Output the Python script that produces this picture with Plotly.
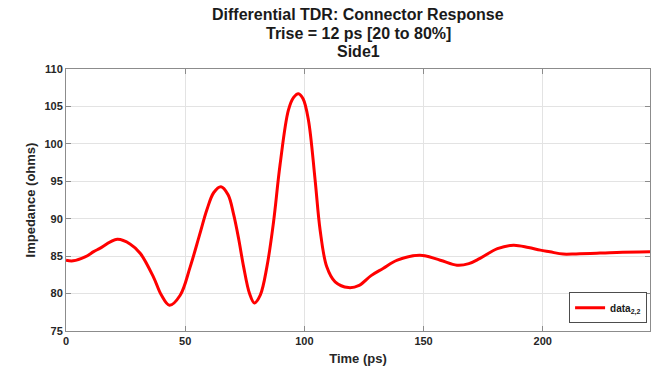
import plotly.graph_objects as go

time_ps = [0, 3, 8, 11.6, 14, 21.5, 27, 31.2, 36.7, 40, 43.4, 47.9, 52.1, 56, 59.1, 62, 65,
           68, 70.3, 72.5, 74.5, 77, 79, 81.5, 84.3, 87, 89.8, 93.3, 95.5, 97.5, 99.5, 101.7,
           104.5, 106.6, 109.4, 112.9, 118.5, 123, 128, 133, 139, 148.5, 157, 164, 169, 173.7,
           181, 187.7, 194, 199, 203, 208.6, 214, 220, 231, 245]
impedance = [84.44, 84.37, 84.9, 85.6, 86.0, 87.24, 86.6, 85.36, 82.2, 79.8, 78.44, 79.78, 83.57,
             87.8, 91.2, 93.5, 94.28, 93.2, 90.6, 87.2, 83.6, 80.0, 78.75, 79.8, 83.6, 89.4, 97.2,
             104.5, 106.2, 106.7, 106.0, 103.2, 95.2, 88.5, 83.57, 81.56, 80.8, 81.1, 82.4,
             83.35, 84.46, 85.13, 84.46, 83.8, 84.0, 84.7, 86.0, 86.47, 86.16, 85.8, 85.58,
             85.27, 85.3, 85.36, 85.5, 85.58]

x_ticks = [0, 50, 100, 150, 200]
y_ticks = [75, 80, 85, 90, 95, 100, 105, 110]

title_lines = ["Differential TDR: Connector Response", "Trise = 12 ps [20 to 80%]", "Side1"]

FONT = "Liberation Sans, Arial, sans-serif"
AX = "#262626"

fig = go.Figure()
fig.add_trace(go.Scatter(
    x=time_ps, y=impedance, mode="lines",
    line=dict(color="#FF0000", width=3, shape="spline", smoothing=1.0),
    name="<b>data</b><sub><b>2,2</b></sub>",
))

axis_common = dict(
    showline=True, linecolor="#8c8c8c", linewidth=1, mirror="ticks",
    ticks="inside", ticklen=5, tickcolor="#8c8c8c",
    showgrid=True, gridcolor="#e3e3e3", gridwidth=1, zeroline=False,
    tickfont=dict(family=FONT, size=11, color=AX),
)

title_y = [14, 33, 52]
for txt, yy in zip(title_lines, title_y):
    fig.add_annotation(
        text=f"<b>{txt}</b>", xref="paper", yref="paper",
        x=0.5, y=1 + (69 - yy) / (369 - 69 - 38), xanchor="center", yanchor="middle",
        showarrow=False, font=dict(family=FONT, size=16, color="#1a1a1a"),
    )

fig.update_layout(
    width=654, height=369,
    margin=dict(l=66, r=4, t=69, b=38),
    paper_bgcolor="white", plot_bgcolor="white",
    font=dict(family=FONT, color=AX),
    xaxis=dict(range=[0, 245], tickvals=x_ticks,
               ticktext=[f"<b>{v}</b>" for v in x_ticks],
               title=dict(text="<b>Time (ps)</b>", font=dict(family=FONT, size=13, color=AX),
                          standoff=7),
               **axis_common),
    yaxis=dict(range=[75, 110], tickvals=y_ticks,
               ticktext=[f"<b>{v}</b>" for v in y_ticks],
               title=dict(text="<b>Impedance (ohms)</b>", font=dict(family=FONT, size=13, color=AX),
                          standoff=5),
               **axis_common),
    showlegend=True,
    legend=dict(
        x=0.995, y=0.03, xanchor="right", yanchor="bottom",
        bgcolor="white", bordercolor="#4d4d4d", borderwidth=1,
        font=dict(family=FONT, size=10, color="#1a1a1a"),
        itemwidth=30, tracegroupgap=0,
    ),
)

fig.write_html("out.html")
